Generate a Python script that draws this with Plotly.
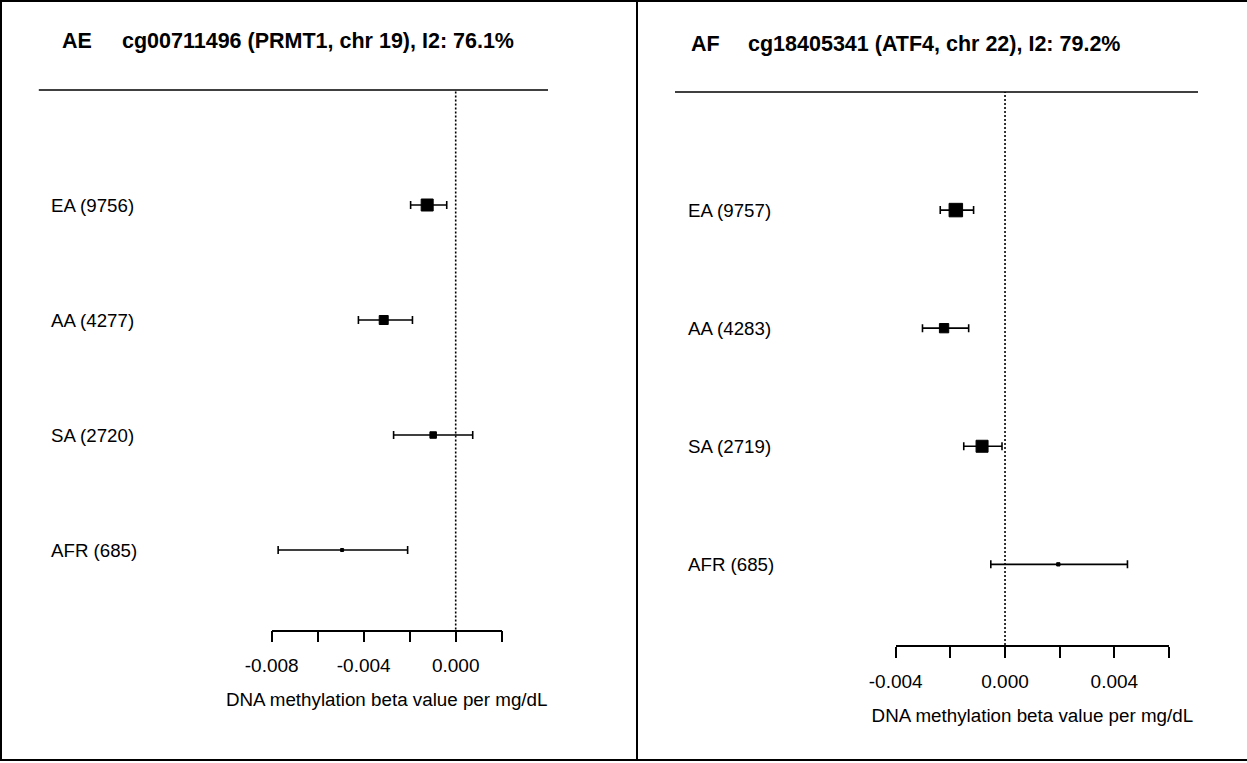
import plotly.graph_objects as go

W, H = 1247, 763

# ---------------- data ----------------
groups_ae = ["EA (9756)", "AA (4277)", "SA (2720)", "AFR (685)"]
est_ae = [-0.00124, -0.00313, -0.00098, -0.00494]
lo_ae = [-0.00196, -0.00423, -0.00270, -0.00772]
hi_ae = [-0.00039, -0.00188, 0.00074, -0.00209]
box_ae = [12, 9, 6.5, 3]

groups_af = ["EA (9757)", "AA (4283)", "SA (2719)", "AFR (685)"]
est_af = [-0.00180, -0.00223, -0.00084, 0.00195]
lo_af = [-0.00237, -0.00302, -0.00151, -0.00052]
hi_af = [-0.00115, -0.00133, -0.00011, 0.00448]
box_af = [13.5, 9.3, 12, 3.3]

row_pos = [4, 3, 2, 1]

ticks_ae = [-0.008, -0.006, -0.004, -0.002, 0.0, 0.002]
ticklab_ae = ["-0.008", "", "-0.004", "", "0.000", ""]
ticks_af = [-0.004, -0.002, 0.0, 0.002, 0.004, 0.006]
ticklab_af = ["-0.004", "", "0.000", "", "0.004", ""]

title_ae = ("AE", "cg00711496 (PRMT1, chr 19), I2: 76.1%")
title_af = ("AF", "cg18405341 (ATF4, chr 22), I2: 79.2%")
xlabel = "DNA methylation beta value per mg/dL"

FONT = "Liberation Sans, Arial, sans-serif"


def px(x):
    return x / W


def py(y):
    return 1 - y / H


fig = go.Figure()

panels = [
    dict(g=groups_ae, e=est_ae, lo=lo_ae, hi=hi_ae, b=box_ae, ticks=ticks_ae, tl=ticklab_ae,
         title=title_ae, xdom=(271.7, 501.7), ydom=(629.5, 90.0), ymin=0.309,
         line=(38.8, 548), lab_x=49, t1x=60, t2x=120, ty=41, xa="x", ya="y"),
    dict(g=groups_af, e=est_af, lo=lo_af, hi=hi_af, b=box_af, ticks=ticks_af, tl=ticklab_af,
         title=title_af, xdom=(895.7, 1169.0), ydom=(645.0, 92.0), ymin=0.317,
         line=(675, 1198), lab_x=686, t1x=689, t2x=746, ty=44, xa="x2", ya="y2"),
]

layout_axes = {}
shapes = []
annotations = []

for i, p in enumerate(panels):
    fig.add_trace(go.Scatter(
        x=p["e"], y=row_pos, mode="markers",
        marker=dict(symbol="square", size=p["b"], color="black",
                    line=dict(width=1, color="black"), opacity=1),
        error_x=dict(type="data", symmetric=False,
                     array=[h - e for h, e in zip(p["hi"], p["e"])],
                     arrayminus=[e - l for e, l in zip(p["e"], p["lo"])],
                     color="black", thickness=1.6, width=4),
        xaxis=p["xa"], yaxis=p["ya"], showlegend=False, cliponaxis=False,
    ))
    sfx = "" if i == 0 else "2"
    layout_axes["xaxis" + sfx] = dict(
        domain=[px(p["xdom"][0]), px(p["xdom"][1])],
        range=[p["ticks"][0], p["ticks"][-1]],
        anchor="y" + sfx, automargin=False,
        tickmode="array", tickvals=p["ticks"], ticktext=p["tl"],
        ticks="outside", ticklen=11, tickwidth=1.5, tickcolor="black",
        ticklabelstandoff=7,
        showline=True, linewidth=1.5, linecolor="black",
        showgrid=False, zeroline=False,
        tickfont=dict(family=FONT, size=19, color="black"),
        title=dict(text=xlabel, font=dict(family=FONT, size=18.8, color="black"), standoff=18),
        fixedrange=True,
    )
    layout_axes["yaxis" + sfx] = dict(
        domain=[py(p["ydom"][0]), py(p["ydom"][1])],
        range=[p["ymin"], 5],
        anchor="x" + sfx, visible=False, automargin=False, fixedrange=True,
    )
    # dotted null line
    shapes.append(dict(type="line", xref=p["xa"], yref=p["ya"] + " domain",
                       x0=0, x1=0, y0=0, y1=1,
                       line=dict(color="black", width=1.6, dash="2px,2px")))
    # top rule
    shapes.append(dict(type="line", xref="paper", yref="paper",
                       x0=px(p["line"][0]), x1=px(p["line"][1]),
                       y0=py(p["ydom"][1]), y1=py(p["ydom"][1]),
                       line=dict(color="black", width=1.5)))
    # row labels
    for g, r in zip(p["g"], row_pos):
        annotations.append(dict(text=g, xref="paper", yref=p["ya"], x=px(p["lab_x"]), y=r,
                                xanchor="left", yanchor="middle", showarrow=False,
                                font=dict(family=FONT, size=18.7, color="black")))
    # titles
    annotations.append(dict(text="<b>%s</b>" % p["title"][0], xref="paper", yref="paper",
                            x=px(p["t1x"]), y=py(p["ty"]), xanchor="left", yanchor="middle",
                            showarrow=False, font=dict(family=FONT, size=21.5, color="black")))
    annotations.append(dict(text="<b>%s</b>" % p["title"][1], xref="paper", yref="paper",
                            x=px(p["t2x"]), y=py(p["ty"]), xanchor="left", yanchor="middle",
                            showarrow=False, font=dict(family=FONT, size=21.5, color="black")))

# outer frame of the two cells
frame = dict(color="black", width=2)
shapes += [
    dict(type="line", xref="paper", yref="paper", x0=px(1), x1=px(1), y0=py(0), y1=py(761), line=frame),
    dict(type="line", xref="paper", yref="paper", x0=px(637), x1=px(637), y0=py(0), y1=py(761), line=frame),
    dict(type="line", xref="paper", yref="paper", x0=0, x1=1, y0=py(1), y1=py(1), line=frame),
    dict(type="line", xref="paper", yref="paper", x0=0, x1=1, y0=py(760), y1=py(760), line=frame),
]

fig.update_layout(
    width=W, height=H, margin=dict(l=0, r=0, t=0, b=0, autoexpand=False),
    paper_bgcolor="white", plot_bgcolor="white",
    shapes=shapes, annotations=annotations, **layout_axes,
)

fig.write_html("out.html", config={"displayModeBar": False})
